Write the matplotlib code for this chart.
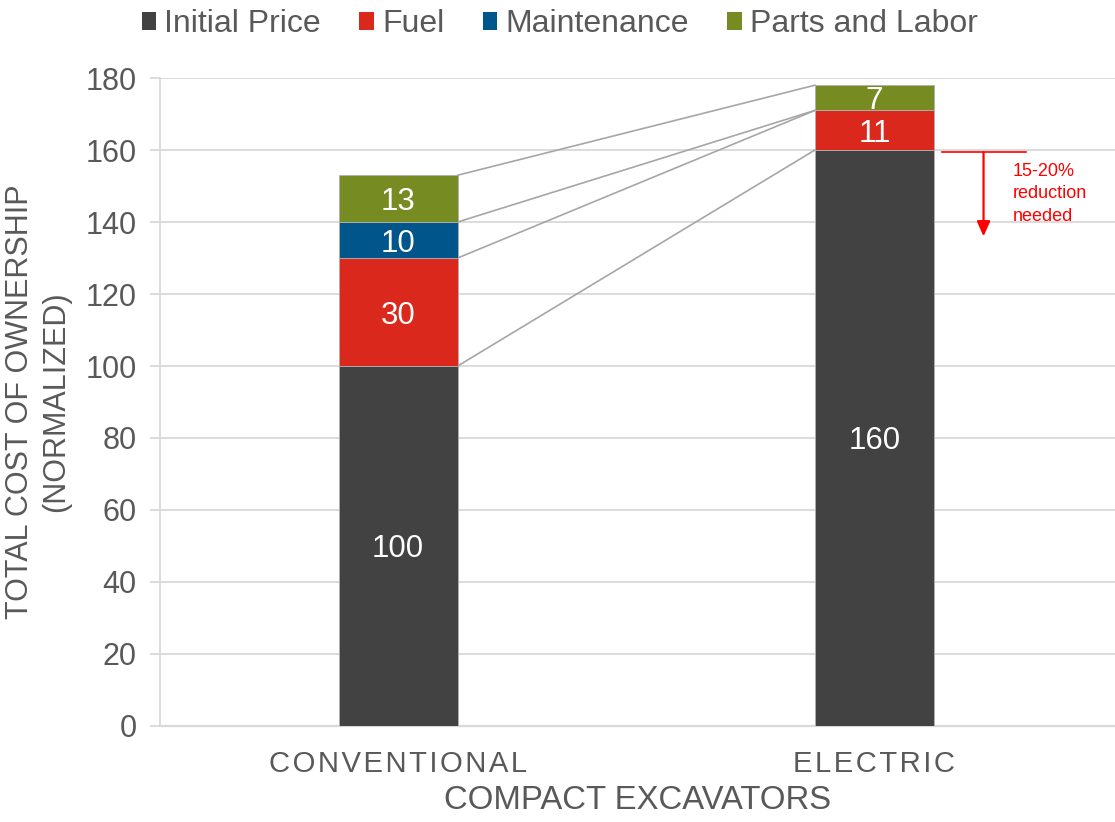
import matplotlib
matplotlib.use("Agg")
import matplotlib.pyplot as plt
from matplotlib.patches import Patch
import numpy as np

plt.rcParams['font.family'] = ['Liberation Sans', 'DejaVu Sans']

categories = ["CONVENTIONAL", "ELECTRIC"]
series_names = ["Initial Price", "Fuel", "Maintenance", "Parts and Labor"]
initial_price = [100, 160]
fuel = [30, 11]
maintenance = [10, 0]
parts_labor = [13, 7]
colors = ["#424242", "#DA291C", "#00558A", "#768C23"]

values = np.array([initial_price, fuel, maintenance, parts_labor], dtype=float)
tops = np.cumsum(values, axis=0)
bottoms = tops - values

text_gray = "#595959"
grid_gray = "#d9d9d9"

fig = plt.figure(figsize=(11.15, 8.22), dpi=100)
ax = fig.add_axes([0.1435, 0.1168, 0.8565, 0.7883])

x = np.arange(len(categories))
bar_w = 0.25

for i, name in enumerate(series_names):
    ax.bar(x, values[i], bar_w, bottom=bottoms[i], color=colors[i],
           edgecolor="#b0b0b0", linewidth=0.6, zorder=3, label=name)
    for j in range(len(categories)):
        if values[i, j] > 0:
            ax.text(x[j], bottoms[i, j] + values[i, j] / 2, f"{values[i, j]:g}",
                    ha="center", va="center_baseline", color="white",
                    fontsize=22.5, zorder=4)

# connector lines between matching segment tops of the two bars
for i in range(len(series_names)):
    ax.plot([x[0] + bar_w / 2, x[1] - bar_w / 2], [tops[i, 0], tops[i, 1]],
            color="#a6a6a6", linewidth=1.2, zorder=2)

# reduction target annotation
target = initial_price[1]
reduced = target * 0.85
ax.plot([1.142, 1.318], [target - 0.6, target - 0.6], color="#ff0000",
        linewidth=1.2, zorder=4, clip_on=False)
ax.annotate("", xy=(1.229, reduced), xytext=(1.229, target - 0.6),
            arrowprops=dict(arrowstyle="-|>,head_length=0.9,head_width=0.4",
                            color="#ff0000", lw=1.6, shrinkA=0, shrinkB=0),
            zorder=4)
ax.text(1.29, 156.5, "15-20%\nreduction\nneeded", color="#ff0000",
        fontsize=13, ha="left", va="top", linespacing=1.45, zorder=4)

ax.set_xlim(-0.5, 1.505)
ax.set_ylim(0, 180)
ax.set_yticks(np.arange(0, 181, 20))
ax.set_xticks(x)
# letter-spaced category labels
ax.set_xticklabels(["\u200a".join(c) for c in categories])

ax.yaxis.grid(True, color=grid_gray, linewidth=1.3, zorder=0)
ax.set_axisbelow(True)
for side in ["top", "right"]:
    ax.spines[side].set_visible(False)
ax.spines["left"].set_color(grid_gray)
ax.spines["left"].set_linewidth(1.3)
ax.spines["bottom"].set_color(grid_gray)
ax.spines["bottom"].set_linewidth(1.6)

ax.tick_params(axis="y", colors=grid_gray, labelcolor=text_gray,
               labelsize=22, length=7, width=1.3, pad=10)
ax.tick_params(axis="x", length=0, labelcolor=text_gray, labelsize=21.1, pad=17)

ax.set_ylabel("TOTAL COST OF OWNERSHIP\n(NORMALIZED)", color=text_gray,
              fontsize=22, linespacing=1.27, labelpad=10)
ax.set_xlabel("COMPACT EXCAVATORS", color=text_gray, fontsize=23.7, labelpad=5)

handles = [Patch(facecolor=c, edgecolor="none") for c in colors]
leg = fig.legend(handles, series_names, loc="upper center", ncol=4,
                 bbox_to_anchor=(0.502, 1.012), frameon=False, fontsize=23,
                 handlelength=0.46, handleheight=0.5, handletextpad=0.25,
                 columnspacing=1.2, borderaxespad=0.2)
for t in leg.get_texts():
    t.set_color(text_gray)

fig.savefig("out.png", dpi=100)
